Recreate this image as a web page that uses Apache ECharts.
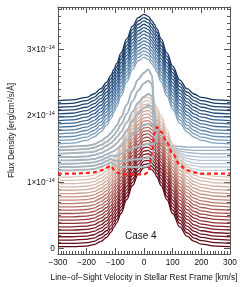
<!DOCTYPE html>
<html><head><meta charset="utf-8">
<script src="https://cdn.jsdelivr.net/npm/echarts@6/dist/echarts.min.js"></script>
<style>html,body{margin:0;padding:0;background:#fff}#c{width:240px;height:287px}</style>
</head><body><div id="c"></div>
<script>
// velocity grid (km/s)
const velocities = [-300,-250,-200,-175,-150,-130,-115,-105,-95,-80,-60,-40,-20,0,15,28,36,45,60,80,100,125,150,175,200,250,300];
// continuum offsets of the 45 stacked spectra (units of 1e-14)
const baselines = [2.23,2.18,2.13,2.08,2.03,1.98,1.93,1.88,1.83,1.78,1.73,1.68,1.63,1.58,1.53,1.48,1.43,1.38,1.33,1.28,1.23,1.18,1.13,1.08,1.03,0.98,0.93,0.88,0.83,0.78,0.73,0.68,0.63,0.58,0.53,0.48,0.43,0.38,0.33,0.28,0.23,0.18,0.13,0.08,0.03];
// line profile above continuum, pre-transit (blue) spectra
const blueProfile = [0,0.01,0.05,0.10,0.18,0.28,0.38,0.47,0.56,0.72,0.93,1.12,1.25,1.30,1.27,1.20,1.15,1.08,0.93,0.72,0.52,0.31,0.18,0.10,0.05,0.01,0];
// line profile above continuum, post-transit (red) spectra
const redProfile = [0,0,0.01,0.03,0.08,0.14,0.22,0.29,0.36,0.50,0.71,0.92,1.09,1.19,1.20,1.16,1.12,1.05,0.92,0.71,0.50,0.30,0.16,0.08,0.04,0.01,0];
// in-transit spectra 14..21 (grey in the core)
const grayProfiles = [
 [0,0.01,0.02,0.04,0.09,0.15,0.21,0.27,0.33,0.45,0.64,0.85,1.02,1.12,1.17,1.08, 0.58,0.06,0.05,0.03,0.02,0.01,0,0,0,0,0],
 [0,0.01,0.02,0.04,0.08,0.13,0.18,0.23,0.29,0.39,0.55,0.74,0.90,1.01,1.05,1.00, 0.56,0.12,0.11,0.08,0.05,0.02,0.01,0,0,0,0],
 [0,0.01,0.02,0.03,0.07,0.12,0.16,0.20,0.25,0.33,0.47,0.63,0.77,0.86,0.90,0.87, 0.52,0.22,0.20,0.14,0.09,0.04,0.02,0.01,0,0,0],
 [0,0,0.01,0.03,0.06,0.10,0.14,0.17,0.21,0.28,0.40,0.54,0.66,0.74,0.78,0.76, 0.50,0.32,0.29,0.21,0.14,0.06,0.02,0.01,0,0,0],
 [0,0,0.01,0.02,0.05,0.09,0.12,0.14,0.17,0.22,0.31,0.40,0.48,0.53,0.55,0.54, 0.46,0.42,0.38,0.28,0.18,0.08,0.03,0.01,0,0,0],
 [0,0,0.01,0.02,0.05,0.09,0.12,0.12,0.12,0.15,0.19,0.23,0.26,0.28,0.30,0.30, 0.42,0.52,0.47,0.35,0.22,0.10,0.04,0.01,0,0,0],
 [0,0,0.01,0.02,0.05,0.09,0.12,0.10,0.09,0.09,0.10,0.11,0.12,0.13,0.14,0.16, 0.40,0.60,0.54,0.40,0.26,0.11,0.04,0.02,0,0,0],
 [0,0,0.01,0.02,0.05,0.09,0.12,0.09,0.06,0.05,0.05,0.05,0.05,0.05,0.06,0.14, 0.42,0.66,0.59,0.44,0.28,0.12,0.05,0.02,0,0,0]
];
// mid-transit spectrum (red dashed), spectrum 22
const dashedProfile = [0,0,0.01,0.02,0.05,0.09,0.12,0.06,0.02,0,-0.01,-0.01,-0.01,-0.01,0.02,0.30, 0.60,0.70,0.63,0.47,0.30,0.13,0.05,0.02,0,0,0];
const blueIdx = [0,1,2,3,4,5,6,7,8,9,10,11,12,13];
const grayIdx = [14,15,16,17,18,19,20,21];
const dashedIdx = 22;
const redIdx = [23,24,25,26,27,28,29,30,31,32,33,34,35,36,37,38,39,40,41,42,43,44];
const grayCoreRange = [-300, 55];
const yTickValues = [0,1,2,3];

const blueStops = ['#15335c','#2d5886','#6b8fb2','#aebfce','#cdd6de'];
const redStops = ['#dccabe','#c99e8d','#a85651','#7c1d26','#5c0816'];
function hex(c){return [1,3,5].map(k=>parseInt(c.slice(k,k+2),16));}
function lerpColor(stops,t){
  const n=stops.length-1, p=Math.min(n-1e-9,Math.max(0,t*n)), k=Math.floor(p), f=p-k;
  const a=hex(stops[k]), b=hex(stops[k+1]);
  return 'rgb('+a.map((v,j)=>Math.round(v+(b[j]-v)*f)).join(',')+')';
}
function curve(i, prof){ return velocities.map((v,j)=>[v, baselines[i]+prof[j]]); }
function coreCurve(i, prof){ return velocities.map((v,j)=>[v, baselines[i]+prof[j]]).filter(p=>p[0]>=grayCoreRange[0]&&p[0]<=grayCoreRange[1]); }
const base = {type:'line',showSymbol:false,smoothMonotone:'x',silent:true,animation:false};

const series = [];
const nBlue = blueIdx.length + grayIdx.length;
blueIdx.forEach((i,n)=>series.push(Object.assign({},base,{data:curve(i,blueProfile),smooth:0.4,
  lineStyle:{color:lerpColor(blueStops,n/(nBlue)),width:1.3}})));
grayIdx.forEach((i,n)=>series.push(Object.assign({},base,{data:curve(i,grayProfiles[n]),smooth:0.35,
  lineStyle:{color:lerpColor(blueStops,(n+blueIdx.length)/(nBlue)),width:1.3}})));
redIdx.forEach((i,n)=>series.push(Object.assign({},base,{data:curve(i,redProfile),smooth:0.4,
  lineStyle:{color:lerpColor(redStops,n/(redIdx.length-1)),width:1.3}})));
grayIdx.forEach((i,n)=>series.push(Object.assign({},base,{data:coreCurve(i,grayProfiles[n]),smooth:0.35,
  lineStyle:{color:'#a9b4bc',width:1.9}})));
series.push(Object.assign({},base,{data:curve(dashedIdx,dashedProfile),smooth:0.35,
  lineStyle:{color:'#ff1e1e',width:2.2,type:[4,3]}}));

const FONT = 'Liberation Sans, Arial, sans-serif';
function axisCommon(){ return {
  axisLine:{show:true,onZero:false,lineStyle:{color:'#555',width:1}},
  axisTick:{show:true,inside:true,length:6,lineStyle:{color:'#555'}},
  minorTick:{show:true,splitNumber:10,length:3,lineStyle:{color:'#555'}},
  splitLine:{show:false}
};}
const chart = echarts.init(document.getElementById('c'),null,{renderer:'canvas'});
chart.setOption({
  animation:false,
  backgroundColor:'#fff',
  grid:{left:42,right:10,top:7,bottom:30,containLabel:false},
  xAxis:[
    Object.assign({type:'value',min:-300,max:300,interval:100,position:'bottom',
      name:'Line\u2212of\u2212Sight Velocity in Stellar Rest Frame [km/s]',nameLocation:'middle',nameGap:20,
      nameTextStyle:{fontSize:8.3,color:'#111',fontFamily:FONT},
      axisLabel:{fontSize:8.3,color:'#111',fontFamily:FONT,margin:5,formatter:v=>String(v).replace('-','\u2212')}},axisCommon()),
    Object.assign({type:'value',min:-300,max:300,interval:100,position:'top',axisLabel:{show:false}},axisCommon())
  ],
  yAxis:[
    Object.assign({type:'value',min:-0.08,max:3.64,splitNumber:4,position:'left',
      name:'Flux Density [erg/cm\u00b2/s/\u00c5]',nameLocation:'middle',nameGap:29,nameRotate:90,
      nameTextStyle:{fontSize:8.3,color:'#111',fontFamily:FONT},
      axisLabel:{showMinLabel:false,showMaxLabel:false,margin:3,color:'#111',fontFamily:FONT,
        formatter:v=>{ if(yTickValues.indexOf(v)<0) return ''; return v===0?'{m|0}':'{m|'+v+'\u00d710}{s|\u221214}'; },
        rich:{m:{fontSize:8.3,fontFamily:FONT,color:'#111',lineHeight:10},
              s:{fontSize:5.5,fontFamily:FONT,color:'#111',lineHeight:10,verticalAlign:'top'}}}},axisCommon()),
    Object.assign({type:'value',min:-0.08,max:3.64,splitNumber:4,position:'right',axisLabel:{show:false}},axisCommon())
  ],
  graphic:[{type:'text',left:125,top:231,style:{text:'Case 4',fontSize:10,fill:'#111',fontFamily:FONT}}],
  series:series
});
</script></body></html>
